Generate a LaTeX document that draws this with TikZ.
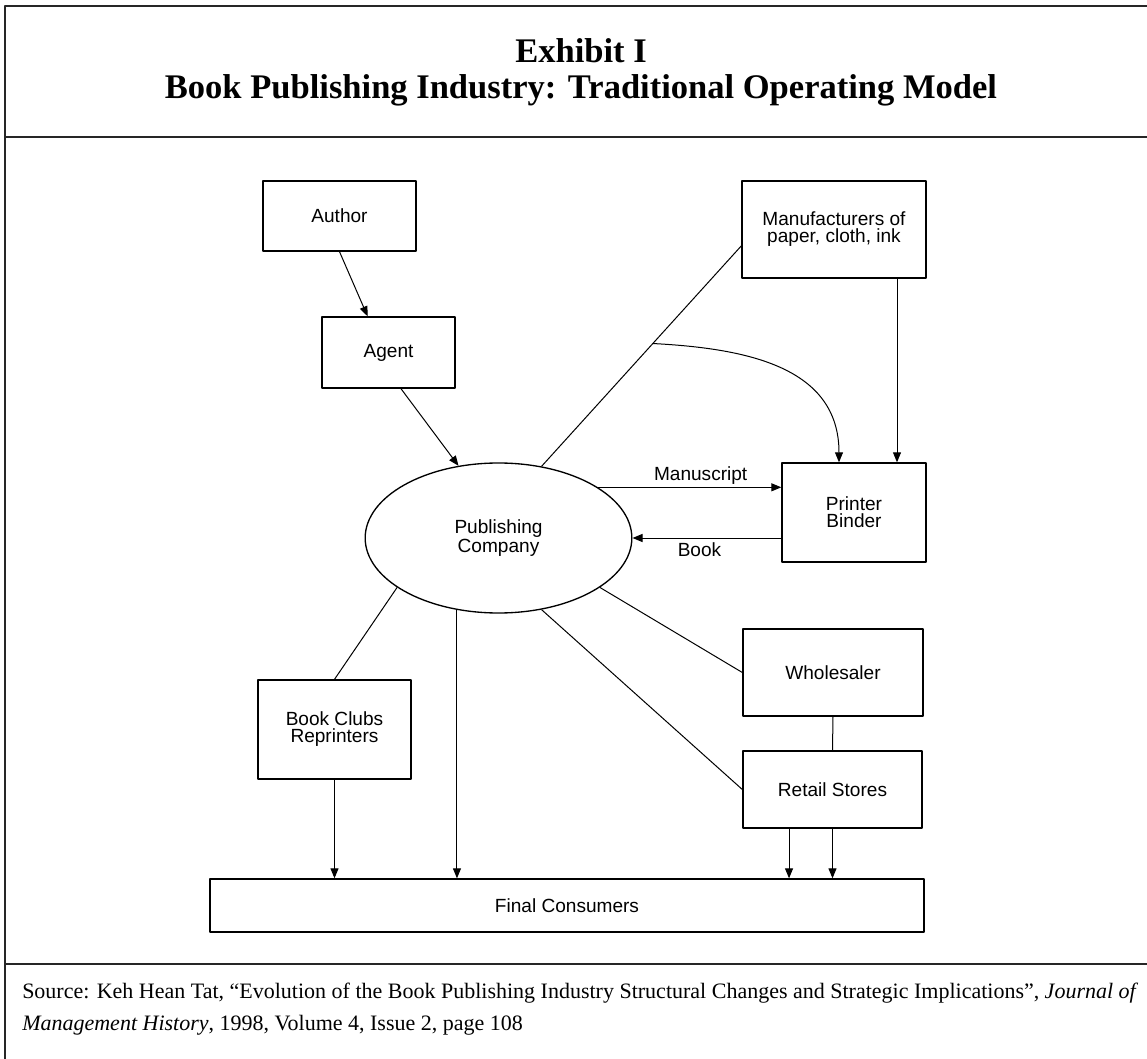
\documentclass[tikz,border=0pt]{standalone}
\usepackage{fontspec}
\setmainfont{Liberation Serif}
\newfontfamily\boxfont{Liberation Sans}
\usetikzlibrary{shapes.geometric,arrows.meta}

\begin{document}
\begin{tikzpicture}[x=0.75pt,y=-0.75pt,line join=round,
    box/.style={draw,line width=1pt,align=center,inner sep=0pt,
      font=\boxfont\fontsize{14.3}{12.75}\selectfont},
    link/.style={line width=0.75pt},
    flow/.style={link,-{Triangle[length=7.5pt,width=6pt]}},
    frame/.style={line width=1.9pt,draw=black!85},
    headfont/.style={font=\bfseries\fontsize{25.9}{30}\selectfont},
    srcfont/.style={font=\fontsize{16.5}{24}\selectfont}]
    \useasboundingbox (0,0) rectangle (1147,1059);
    % outer frame
    \draw[frame] (1147,6) -- (5,6) -- (5,1059);
    \draw[frame] (5,137) -- (1147,137);
    \draw[frame] (5,964) -- (1147,964);
    % heading
    \node[headfont,anchor=base] (head) at (581,63) {Exhibit I};
    \node[headfont,anchor=base] (title) at (581,99) {Book Publishing Industry: Traditional Operating Model};
    % boxes
    \node[box,minimum width=114.75pt,minimum height=52.5pt] (author) at (339.5,216) {Author};
    \node[box,minimum width=99.75pt,minimum height=53.25pt] (agent) at (388.5,352.5) {Agent};
    \node[box,minimum width=138pt,minimum height=72.75pt] (mfr) at (834,229.5) {Manufacturers of\\paper, cloth, ink};
    \node[box,minimum width=108pt,minimum height=74.25pt] (printer) at (854,512.5) {Printer\\Binder};
    \node[box,ellipse,minimum width=200pt,minimum height=112.5pt] (pub) at (498.5,538) {Publishing\\Company};
    \node[box,minimum width=135pt,minimum height=65.25pt] (whole) at (833,672.5) {Wholesaler};
    \node[box,minimum width=134.25pt,minimum height=57.75pt] (retail) at (832.5,789.5) {Retail Stores};
    \node[box,minimum width=114.75pt,minimum height=74.25pt] (clubs) at (334.5,729.5) {Book Clubs\\Reprinters};
    \node[box,minimum width=535.5pt,minimum height=39.75pt] (final) at (567,905.5) {Final Consumers};
    % upper connectors
    \draw[flow] (author.south) -- (agent.120);
    \draw[flow] (agent.-71) -- (pub.119);
    \draw[link] (pub.59) -- coordinate[pos=0.557] (split) (mfr.190);
    \coordinate (p1) at ([xshift=-11.25pt]printer.north);
    \draw[flow] (split) to[out=-3,in=90,looseness=1.1] (p1);
    \coordinate (m1) at ([xshift=47.25pt]mfr.south);
    \draw[flow] (m1) -- (m1 |- printer.north);
    \draw[flow] (pub.27) -- node[pos=0.56,above,inner sep=2pt,font=\boxfont\fontsize{14.3}{14}\selectfont] {Manuscript} (pub.27 -| printer.west);
    \draw[flow] (printer.west |- pub.east) -- node[pos=0.55,below,inner sep=3pt,font=\boxfont\fontsize{14.3}{14}\selectfont] {Book} (pub.east);
    % lower connectors
    \draw[link] (pub.206.5) -- (clubs.north);
    \draw[flow] (pub.240) -- (pub.240 |- final.north);
    \draw[link] (pub.-59) -- (retail.west);
    \draw[link] (pub.-26) -- (whole.west);
    \draw[link] (whole.south) -- (retail.north);
    \draw[flow] (clubs.south) -- (clubs.south |- final.north);
    \coordinate (r1) at ([xshift=-32.6pt]retail.south);
    \draw[flow] (r1) -- (r1 |- final.north);
    \draw[flow] (retail.south) -- (retail.south |- final.north);
    % source
    \node[srcfont,anchor=base west,inner sep=0pt] (src1) at (22,998) {Source: Keh Hean Tat, “Evolution of the Book Publishing Industry Structural Changes and Strategic Implications”, \textit{Journal of}};
    \node[srcfont,anchor=base west,inner sep=0pt] (src2) at (22,1030) {\textit{Management History}, 1998, Volume 4, Issue 2, page 108};
\end{tikzpicture}
\end{document}
